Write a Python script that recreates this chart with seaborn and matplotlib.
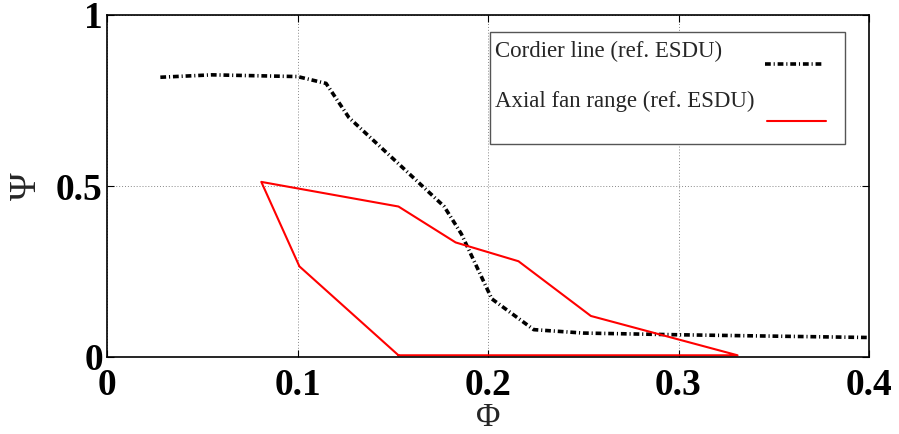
import matplotlib
matplotlib.use("Agg")
import matplotlib.pyplot as plt
import seaborn as sns
import pandas as pd
from matplotlib.lines import Line2D
from matplotlib.patches import Rectangle

# Data
cordier_phi = [0.028, 0.055, 0.100, 0.115, 0.127, 0.154, 0.177, 0.186, 0.202, 0.224, 0.250, 0.300, 0.400]
cordier_psi = [0.818, 0.825, 0.820, 0.800, 0.700, 0.560, 0.440, 0.360, 0.170, 0.080, 0.070, 0.065, 0.057]
fan_phi = [0.153, 0.101, 0.081, 0.153, 0.183, 0.216, 0.254, 0.331, 0.153]
fan_psi = [0.005, 0.265, 0.512, 0.440, 0.335, 0.280, 0.120, 0.005, 0.005]
x_ticks = [0, 0.1, 0.2, 0.3, 0.4]
x_tick_labels = ["0", "0.1", "0.2", "0.3", "0.4"]
y_ticks = [0, 0.5, 1]
y_tick_labels = ["0", "0.5", "1"]
labels = ["Cordier line (ref. ESDU)", "Axial fan range (ref. ESDU)"]

sns.set_style("white")
plt.rcParams["font.family"] = ["Liberation Serif", "DejaVu Serif"]

fig = plt.figure(figsize=(8.99, 4.34), dpi=100)
ax = fig.add_axes([107/899, 1-357/434, 762/899, 342/434])

cd = pd.DataFrame({"phi": cordier_phi, "psi": cordier_psi})
fd = pd.DataFrame({"phi": fan_phi, "psi": fan_psi})

DASH = [1.6, 0.8, 0.3, 0.8]
sns.lineplot(data=cd, x="phi", y="psi", sort=False, ax=ax, color="black",
             linewidth=2.6, estimator=None)
ax.lines[-1].set_dashes(DASH)
sns.lineplot(data=fd, x="phi", y="psi", sort=False, ax=ax, color="#ff0000",
             linewidth=1.5, estimator=None)

ax.set_xlim(0, 0.4)
ax.set_ylim(0, 1)
ax.set_xticks(x_ticks)
ax.set_xticklabels(x_tick_labels, fontsize=27, fontweight="bold")
ax.set_yticks(y_ticks)
ax.set_yticklabels(y_tick_labels, fontsize=27, fontweight="bold")
ax.tick_params(direction="in", length=5, width=0.8, top=True, right=True,
               bottom=True, left=True, colors="black")
ax.tick_params(axis="x", pad=8)
ax.tick_params(axis="y", pad=3)
ax.grid(True, color="#888888", linestyle=(0, (1, 2)), linewidth=0.7)
for s in ax.spines.values():
    s.set_color("black")
    s.set_linewidth(1.2)

ax.set_xlabel("Φ", fontsize=24)
ax.xaxis.label.set_va("center")
ax.xaxis.set_label_coords(0.5, -0.178)
ax.set_ylabel("Ψ", fontsize=27)
ax.yaxis.label.set_va("center")
ax.yaxis.label.set_ha("center")
ax.yaxis.set_label_coords(-0.106, 0.5)

# Legend box (MATLAB style: text left, samples right)
ax.add_patch(Rectangle((0.5026, 0.622), 0.4659, 0.327, transform=ax.transAxes,
                       facecolor="white", edgecolor="#555555", linewidth=1.0,
                       zorder=5))
ax.text(0.509, 0.878, labels[0], transform=ax.transAxes, fontsize=16.5,
        va="baseline", ha="left", zorder=6)
ax.text(0.509, 0.732, labels[1], transform=ax.transAxes, fontsize=16.5,
        va="baseline", ha="left", zorder=6)
ax.add_line(Line2D([0.864, 0.938], [0.856, 0.856], transform=ax.transAxes,
                   color="black", linewidth=2.6, dashes=DASH, zorder=6))
ax.add_line(Line2D([0.866, 0.943], [0.690, 0.690], transform=ax.transAxes,
                   color="#ff0000", linewidth=1.5, zorder=6))

fig.savefig("out.png", dpi=100)
